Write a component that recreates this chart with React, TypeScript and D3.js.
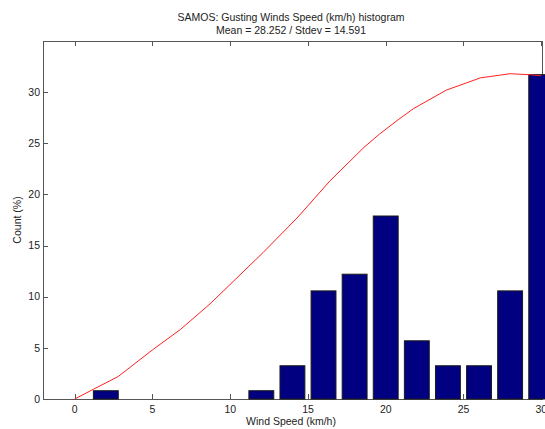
import { useEffect, useRef } from 'react';
import * as d3 from 'd3';

// histogram bins (km/h) and share of samples (%)
const binCenters = [2, 4, 6, 8, 10, 12, 14, 16, 18, 20, 22, 24, 26, 28, 30];
const binCounts = [0.81, 0, 0, 0, 0, 0.81, 3.25, 10.57, 12.2, 17.89, 5.69, 3.25, 3.25, 10.57, 31.71];

// red fitted curve
const fitX = [0, 1.2, 2.8, 5, 6.8, 8.7, 10.2, 12.1, 14.3, 16.4, 18.6, 19.6, 20.8, 21.8, 23.9, 26.1, 28, 29.3, 30];
const fitY = [0, 0.95, 2.2, 4.8, 6.8, 9.3, 11.5, 14.3, 17.7, 21.3, 24.6, 25.9, 27.3, 28.4, 30.2, 31.4, 31.8, 31.7, 31.6];

const xTicks = [0, 5, 10, 15, 20, 25, 30];
const yTicks = [0, 5, 10, 15, 20, 25, 30];

const titleLines = ['SAMOS: Gusting Winds Speed (km/h) histogram', 'Mean = 28.252 / Stdev = 14.591'];
const xLabel = 'Wind Speed (km/h)';
const yLabel = 'Count (%)';

const W = 545;
const H = 429;
const FONT = '"Liberation Sans", Arial, sans-serif';
const FS = 10.5;

export default function App() {
  const svgRef = useRef<SVGSVGElement>(null);

  useEffect(() => {
    if (!svgRef.current) return;
    const svg = d3.select(svgRef.current);
    svg.selectAll('*').remove();

    const left = 43, right = 542, top = 41, bottom = 399;
    const x = d3.scaleLinear().domain([-2.04, 30.05]).range([left, right]);
    const y = d3.scaleLinear().domain([0, 35]).range([bottom, top]);
    const axisColor = '#555';
    const textColor = '#222';

    // axes box
    svg.append('rect').attr('x', left + 0.5).attr('y', top + 0.5)
      .attr('width', right - left).attr('height', bottom - top)
      .attr('fill', 'white').attr('stroke', axisColor).attr('stroke-width', 1);

    // ticks (inside, mirrored)
    const tl = 5;
    xTicks.forEach(t => {
      const px = Math.round(x(t)) + 0.5;
      svg.append('line').attr('x1', px).attr('x2', px).attr('y1', bottom).attr('y2', bottom - tl).attr('stroke', axisColor);
      svg.append('line').attr('x1', px).attr('x2', px).attr('y1', top).attr('y2', top + tl).attr('stroke', axisColor);
      svg.append('text').attr('x', x(t)).attr('y', 412.5).attr('text-anchor', 'middle')
        .attr('font-family', FONT).attr('font-size', FS).attr('fill', textColor).text(t);
    });
    yTicks.forEach(t => {
      const py = Math.round(y(t)) + 0.5;
      svg.append('line').attr('x1', left).attr('x2', left + tl).attr('y1', py).attr('y2', py).attr('stroke', axisColor);
      svg.append('line').attr('x1', right).attr('x2', right - tl).attr('y1', py).attr('y2', py).attr('stroke', axisColor);
      svg.append('text').attr('x', 40).attr('y', y(t)).attr('dy', '0.36em').attr('text-anchor', 'end')
        .attr('font-family', FONT).attr('font-size', FS).attr('fill', textColor).text(t);
    });

    // bars
    const barW = 1.6;
    const bars = binCenters.map((c, i) => ({ c, v: binCounts[i] })).filter(d => d.v > 0);
    svg.append('g').selectAll('rect').data(bars).join('rect')
      .attr('x', d => x(d.c - barW / 2))
      .attr('y', d => y(d.v))
      .attr('width', d => x(d.c + barW / 2) - x(d.c - barW / 2))
      .attr('height', d => y(0) - y(d.v))
      .attr('fill', '#000080').attr('stroke', '#1a1a1a').attr('stroke-width', 1);

    // fitted curve
    const pts = fitX.map((v, i) => [v, fitY[i]] as [number, number]);
    const line = d3.line<[number, number]>().x(d => x(d[0])).y(d => y(d[1]));
    svg.append('path').datum(pts).attr('d', line).attr('fill', 'none')
      .attr('stroke', '#ff2020').attr('stroke-width', 1);

    // titles and labels
    const cx = 291;
    titleLines.forEach((t, i) => {
      svg.append('text').attr('x', cx).attr('y', 20.5 + i * 13.5).attr('text-anchor', 'middle')
        .attr('font-family', FONT).attr('font-size', FS).attr('fill', textColor).text(t);
    });
    svg.append('text').attr('x', cx).attr('y', 425).attr('text-anchor', 'middle')
      .attr('font-family', FONT).attr('font-size', FS).attr('fill', textColor).text(xLabel);
    svg.append('text').attr('transform', `translate(21,${(top + bottom) / 2}) rotate(-90)`)
      .attr('text-anchor', 'middle')
      .attr('font-family', FONT).attr('font-size', FS).attr('fill', textColor).text(yLabel);
  }, []);

  return (
    <div style={{ position: 'absolute', left: 0, top: 0, width: W, height: H, overflow: 'hidden', background: 'white' }}>
      <svg ref={svgRef} width={W} height={H} style={{ display: 'block' }} />
    </div>
  );
}
